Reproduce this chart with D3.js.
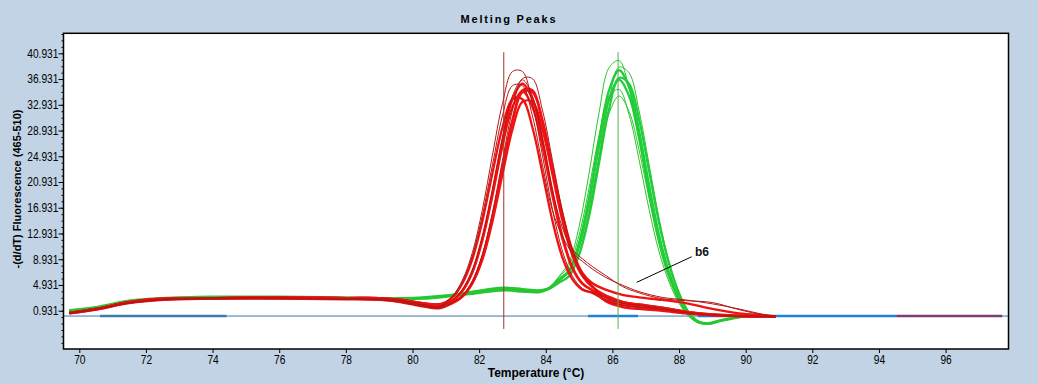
<!DOCTYPE html>
<html>
<head>
<meta charset="utf-8">
<script src="https://cdn.jsdelivr.net/npm/d3@7"></script>
<style>
  body { margin: 0; background: #c1d3e5; }
  svg { display: block; }
  text { font-family: "Liberation Sans", Arial, sans-serif; fill: #000; }
  .tick text { font-size: 12px; }
</style>
</head>
<body>
<svg id="chart" width="1038" height="384"></svg>
<script>
// temperatures the red (b-series) traces were read at
const redTemps = [69.7, 70.5, 71.5, 72.5, 74, 76, 78, 79, 79.7, 80.3, 80.8, 81.2, 81.5, 81.8, 82.1, 82.4, 82.7,
                  83.0, 83.3, 83.6, 83.9, 84.2, 84.5, 84.8, 85.1, 85.4, 85.8, 86.3, 86.8, 87.5, 88.2, 89.0, 89.8, 90.5, 90.9];
const r1 = [0.6, 1.2, 2.2, 2.7, 2.9, 2.9, 2.8, 2.8, 2.5, 1.9, 1.6, 3.2, 5.7, 10.0, 16.7, 25.1, 33.1,
            38.1, 38.1, 33.1, 25.1, 16.7, 10.2, 6.3, 4.4, 3.8, 3.0, 2.1, 1.8, 1.3, 0.7, 0.3, 0.1, 0.05, 0];
const r2 = [0.5, 1.1, 2.1, 2.6, 2.8, 2.9, 2.8, 2.7, 2.2, 1.6, 1.3, 2.2, 3.3, 5.5, 9.7, 16.2, 24.3,
            32.1, 37.0, 37.0, 32.1, 24.3, 16.4, 10.3, 6.6, 4.8, 2.6, 1.8, 1.5, 1.1, 0.6, 0.25, 0.1, 0.05, 0];
const r3 = [0.6, 1.2, 2.3, 2.8, 2.9, 3.0, 2.9, 2.9, 2.6, 2.1, 1.9, 2.5, 4.1, 7.1, 12.3, 19.4, 27.4,
            33.8, 36.2, 33.8, 27.4, 19.4, 12.5, 7.7, 5.2, 4.1, 3.3, 2.3, 1.9, 1.4, 0.8, 0.35, 0.15, 0.05, 0];
const r4 = [0.5, 1.1, 2.2, 2.7, 2.8, 2.8, 2.7, 2.6, 2.3, 1.8, 1.5, 2.2, 3.2, 5.4, 9.3, 15.5, 23.2,
            30.6, 35.2, 35.2, 30.6, 23.2, 15.7, 9.9, 6.5, 4.7, 3.0, 2.1, 1.8, 1.3, 0.7, 0.3, 0.1, 0.05, 0];
const r5 = [0.6, 1.2, 2.2, 2.7, 2.9, 2.9, 2.8, 2.8, 2.5, 1.9, 1.6, 2.5, 4.0, 6.9, 11.9, 18.8, 26.5,
            32.6, 35.0, 32.6, 26.5, 18.8, 12.1, 7.5, 5.1, 4.1, 2.4, 1.5, 1.2, 0.9, 0.5, 0.2, 0.1, 0, 0];
const r6 = [0.6, 1.2, 2.3, 2.8, 2.9, 3.0, 2.9, 2.9, 2.6, 2.1, 1.9, 3.0, 5.2, 9.0, 14.9, 22.3, 29.4,
            33.8, 33.8, 29.4, 22.3, 14.9, 9.2, 5.8, 4.2, 3.7, 2.6, 1.8, 1.5, 1.1, 0.6, 0.25, 0.1, 0.05, 0];
const r7 = [0.5, 1.1, 2.1, 2.6, 2.8, 2.9, 2.8, 2.7, 2.2, 1.6, 1.3, 2.1, 3.1, 5.2, 8.9, 14.8, 22.1,
            29.1, 33.4, 33.4, 29.1, 22.1, 14.9, 9.5, 6.3, 4.6, 3.3, 2.3, 1.9, 1.4, 0.8, 0.35, 0.15, 0.05, 0];
// b6 traces with the high-temperature shoulder
const b6a = [0.5, 1.1, 2.2, 2.7, 2.8, 2.8, 2.7, 2.6, 2.3, 1.8, 1.5, 2.6, 4.2, 7.2, 12.4, 19.7, 27.8,
             34.3, 36.8, 34.3, 27.8, 19.7, 13.8, 10.4, 9.0, 7.8, 6.4, 4.7, 3.7, 2.8, 2.5, 2.2, 1.1, 0.3, 0.05];
const b6b = [0.6, 1.2, 2.2, 2.7, 2.9, 2.9, 2.8, 2.8, 2.5, 1.9, 1.6, 3.2, 5.4, 9.5, 15.8, 23.6, 31.2,
             35.9, 35.9, 31.2, 23.6, 16.5, 12.5, 9.9, 8.6, 7.4, 6.1, 4.9, 3.9, 3.0, 2.6, 2.0, 1.2, 0.4, 0.1];
const b6c = [0.6, 1.2, 2.3, 2.8, 2.9, 3.0, 2.9, 2.9, 2.6, 2.1, 1.9, 2.2, 3.2, 5.3, 9.3, 15.4, 23.0,
             30.3, 34.9, 34.9, 30.3, 23.0, 16.0, 10.3, 6.8, 5.2, 4.2, 3.4, 3.0, 2.6, 2.1, 1.2, 0.5, 0.2, 0.05];

// temperatures the green traces were read at
const greenTemps = [69.7, 70.5, 71.5, 72.5, 74, 76, 78, 79, 79.7, 80.3, 81.0, 81.7, 82.3, 82.8, 83.3, 83.8,
                    84.1, 84.4, 84.7, 85.0, 85.3, 85.6, 85.9, 86.2, 86.5, 86.8, 87.1, 87.4, 87.7, 88.0, 88.3,
                    88.6, 88.9, 89.2, 89.5, 89.9];
const g1 = [1.0, 1.5, 2.5, 2.9, 3.1, 3.1, 3.0, 2.9, 2.9, 3.0, 3.3, 3.8, 4.3, 4.5, 4.3, 4.1,
            4.6, 6.3, 8.5, 14.0, 22.3, 31.7, 38.7, 39.8, 35.5, 27.5, 18.7, 11.2, 5.9, 2.4, 0.1, -1.0, -1.0, -0.7, -0.4, 0];
const g2 = [0.9, 1.4, 2.4, 2.8, 3.0, 3.0, 2.9, 2.8, 2.8, 2.9, 3.2, 3.6, 4.1, 4.3, 4.1, 4.0,
            4.3, 5.4, 6.4, 9.9, 16.2, 24.9, 33.7, 38.8, 37.9, 32.0, 23.7, 15.3, 8.6, 3.8, 0.7, -0.7, -1.0, -0.7, -0.4, 0];
const g3 = [0.9, 1.4, 2.4, 2.8, 3.0, 3.0, 2.9, 2.8, 2.8, 2.9, 3.2, 3.6, 4.1, 4.3, 4.1, 4.0,
            4.4, 5.8, 7.2, 11.5, 18.5, 27.4, 35.2, 38.3, 35.7, 28.9, 20.5, 12.7, 6.9, 2.9, 0.3, -0.9, -1.1, -0.7, -0.3, 0];
const g4 = [0.8, 1.3, 2.3, 2.7, 2.9, 2.9, 2.8, 2.8, 2.7, 2.8, 3.1, 3.5, 3.9, 4.1, 3.9, 3.8,
            4.3, 5.3, 6.3, 9.6, 15.6, 23.9, 32.3, 37.1, 36.2, 30.7, 22.7, 14.6, 8.2, 3.6, 0.6, -0.8, -1.0, -0.6, -0.3, 0];
const g5 = [1.0, 1.5, 2.5, 2.9, 3.1, 3.1, 3.0, 2.9, 2.9, 3.0, 3.3, 3.8, 4.3, 4.5, 4.3, 4.1,
            4.4, 5.7, 7.1, 11.1, 17.9, 26.4, 33.8, 36.8, 34.3, 27.8, 19.7, 12.3, 6.7, 2.8, 0.3, -0.9, -1.1, -0.7, -0.4, 0];
const g6 = [0.8, 1.3, 2.3, 2.7, 2.9, 2.9, 2.8, 2.8, 2.7, 2.8, 3.1, 3.5, 3.9, 4.1, 3.9, 3.8,
            4.5, 6.1, 8.0, 12.7, 20.0, 28.2, 34.3, 35.3, 31.4, 24.4, 16.7, 10.1, 5.4, 2.1, 0.0, -1.0, -1.0, -0.7, -0.3, 0];
const g7 = [0.9, 1.4, 2.4, 2.8, 3.0, 3.0, 2.9, 2.8, 2.8, 2.9, 3.2, 3.6, 4.1, 4.3, 4.1, 4.0,
            4.4, 5.6, 6.9, 10.6, 16.9, 24.7, 31.6, 34.3, 31.9, 25.9, 18.4, 11.5, 6.3, 2.6, 0.2, -0.9, -1.0, -0.6, -0.3, 0];

const redTraces = [r1, r2, r3, r4, r5, r6, r7, b6a, b6b, b6c];
const greenTraces = [g1, g2, g3, g4, g5, g6, g7];

const xTicks = [70, 72, 74, 76, 78, 80, 82, 84, 86, 88, 90, 92, 94, 96];
const yTicks = [0.931, 4.931, 8.931, 12.931, 16.931, 20.931, 24.931, 28.931, 32.931, 36.931, 40.931];
const yMinorTicks = d3.range(-4.069, 44, 1);

const baselineLevel = 0.1;
const baselineRuns = [[70.62, 74.42], [85.27, 86.77], [88.57, 94.52]];
const baselineTail = [94.52, 97.7];
const meltTemps = [82.74, 86.17];   // red Tm, green Tm
const markerSpan = [-1.9, 41.1];

const labelText = 'b6';
const labelAt = [88.48, 9.4];
const leader = [[86.73, 5.34], [88.38, 9.32]];

// ---- drawing ----
const svg = d3.select('#chart');
const plotL = 63.5, plotR = 1008.5, plotT = 33.3, plotB = 349;
const x = d3.scaleLinear().domain([69.526, 97.888]).range([plotL, plotR]);
const y = d3.scaleLinear().domain([-5.02, 44.04]).range([plotB, plotT]);

svg.append('rect').attr('x', plotL).attr('y', plotT)
    .attr('width', plotR - plotL).attr('height', plotB - plotT).attr('fill', '#fff');

svg.append('clipPath').attr('id', 'plot')
    .append('rect').attr('x', plotL).attr('y', plotT)
    .attr('width', plotR - plotL).attr('height', plotB - plotT);

const g = svg.append('g').attr('clip-path', 'url(#plot)');

// baseline
g.append('line')
    .attr('x1', plotL).attr('x2', plotR)
    .attr('y1', y(baselineLevel)).attr('y2', y(baselineLevel))
    .attr('stroke', '#3b77a6').attr('stroke-width', 1);
g.selectAll('.run').data(baselineRuns).join('line')
    .attr('x1', d => x(d[0])).attr('x2', d => x(d[1]))
    .attr('y1', y(baselineLevel)).attr('y2', y(baselineLevel))
    .attr('stroke', (d, i) => i == 0 ? '#3a7db0' : '#1f82d6').attr('stroke-width', 2.5);
g.append('line')
    .attr('x1', x(baselineTail[0])).attr('x2', x(baselineTail[1]))
    .attr('y1', y(baselineLevel)).attr('y2', y(baselineLevel))
    .attr('stroke', '#7b3f74').attr('stroke-width', 2.5);

const line = d3.line()
    .x(d => x(d[0])).y(d => y(d[1]))
    .curve(d3.curveCatmullRom.alpha(0.5));

function drawTraces(temps, traces, thinSet, thick, thin) {
    // thick traces first, thin outlines on top
    const order = traces.filter(t => !thinSet.includes(t)).concat(thinSet);
    g.append('g').selectAll('path')
        .data(order)
        .join('path')
        .attr('d', vals => line(temps.map((t, i) => [t, vals[i]])))
        .attr('fill', 'none')
        .attr('stroke', vals => thinSet.includes(vals) ? thin : thick)
        .attr('stroke-width', vals => thinSet.includes(vals) ? 1 : 2.3)
        .attr('stroke-linejoin', 'round');
}

drawTraces(greenTemps, greenTraces, [g1, g2, g6, g7], '#1fcf3e', '#2cc42c');
drawTraces(redTemps, redTraces, [r1, r2, b6a, b6b], '#f01212', '#b51616');

// Tm markers
g.selectAll('.tm').data(meltTemps).join('line')
    .attr('x1', d => x(d)).attr('x2', d => x(d))
    .attr('y1', y(markerSpan[1])).attr('y2', y(markerSpan[0]))
    .attr('stroke', (d, i) => i == 0 ? '#a33030' : '#4fb34f')
    .attr('stroke-width', 1);

// b6 annotation
g.append('line')
    .attr('x1', x(leader[0][0])).attr('y1', y(leader[0][1]))
    .attr('x2', x(leader[1][0])).attr('y2', y(leader[1][1]))
    .attr('stroke', '#000').attr('stroke-width', 1);
g.append('text')
    .attr('x', x(labelAt[0])).attr('y', y(labelAt[1]))
    .attr('font-size', 12).attr('font-weight', 'bold')
    .style('fill', '#111')
    .text(labelText);

// border
svg.append('rect').attr('x', plotL).attr('y', plotT)
    .attr('width', plotR - plotL).attr('height', plotB - plotT)
    .attr('fill', 'none').attr('stroke', '#000').attr('stroke-width', 1.5);

// axes (tick labels squeezed to mimic the narrow bitmap font)
svg.append('g').attr('transform', `translate(${plotL},0)`)
    .call(d3.axisLeft(y).tickValues(yTicks).tickFormat(d3.format('.3f')).tickSize(5).tickPadding(1))
    .selectAll('text').attr('transform', 'scale(0.85,1)');
svg.append('g').attr('transform', `translate(${plotL},0)`)
    .call(d3.axisLeft(y).tickValues(yMinorTicks).tickFormat('').tickSize(2));
svg.append('g').attr('transform', `translate(0,${plotB})`)
    .call(d3.axisBottom(x).tickValues(xTicks).tickFormat(d3.format('d')).tickSize(4).tickPadding(2))
    .selectAll('text').attr('transform', 'scale(0.85,1)');
svg.selectAll('.domain').remove();
svg.selectAll('.tick line').attr('stroke', '#000');

// titles
svg.append('text')
    .attr('x', 509).attr('y', 23)
    .attr('text-anchor', 'middle')
    .attr('font-size', 11).attr('font-weight', 'bold')
    .attr('letter-spacing', 1.8)
    .text('Melting Peaks');

svg.append('text')
    .attr('x', (plotL + plotR) / 2).attr('y', 377)
    .attr('text-anchor', 'middle')
    .attr('font-size', 12).attr('font-weight', 'bold')
    .text('Temperature (°C)');

svg.append('text')
    .attr('transform', 'translate(21,189) rotate(-90)')
    .attr('text-anchor', 'middle')
    .attr('font-size', 11).attr('font-weight', 'bold')
    .text('-(d/dT) Fluorescence (465-510)');
</script>
</body>
</html>
